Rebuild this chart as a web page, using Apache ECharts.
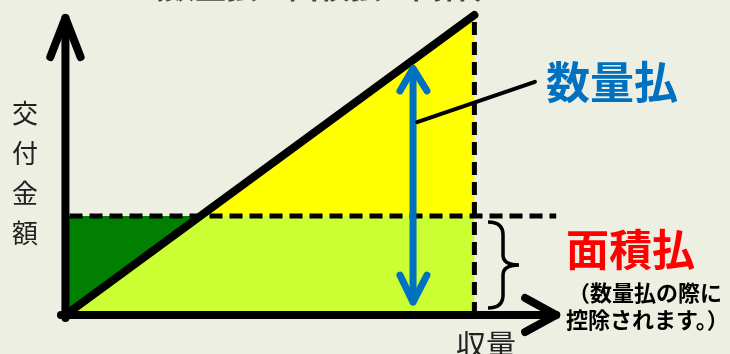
<!DOCTYPE html>
<html>
<head>
<meta charset="utf-8">
<script src="https://cdn.jsdelivr.net/npm/echarts@6/dist/echarts.min.js"></script>
<style>
  html, body { margin: 0; padding: 0; background: #ECEFE1; }
  #main { width: 730px; height: 354px; }
</style>
</head>
<body>
<div id="main"></div>
<script>
// 概念座標: x = 収量 (1 = 実収量), y = 交付金額 (1 = 数量払の満額)
var xRange = [-0.16, 1.625];
var yRange = [-0.13, 1.05];

var diagonal = [[0, 0], [1, 1]];
var greenArea = [[0, 0], [0, 0.33], [0.33, 0.33]];
var limeArea = [[0, 0], [0.33, 0.33], [1, 0.33], [1, 0]];
var yellowArea = [[0.33, 0.33], [1, 1], [1, 0.33]];

var yAxisLine = [[0, -0.01], [0, 0.99]];
var yArrowHead = [[-0.037, 0.86], [0, 0.99], [0.037, 0.86]];
var xAxisLine = [[-0.011, 0], [1.2, 0]];
var xArrowHead = [[1.124, 0.057], [1.2, 0], [1.124, -0.057]];

var dashH = [[0.01, 0.33], [1.2, 0.33]];
var dashV = [[1, 0], [1, 1.01]];

var qtyArrow = [[0.85, 0.045], [0.85, 0.82]];
var qtyHeadTop = [[0.818, 0.747], [0.85, 0.822], [0.884, 0.747]];
var qtyHeadBottom = [[0.818, 0.133], [0.85, 0.043], [0.884, 0.133]];
var pointer = [[0.86, 0.643], [1.148, 0.777]];

// 中括弧: [x, 上端y, 下端y]
var brace = [[1.07, 0.31, 0.023]];

function lineSeries(data, color, width, dash) {
  return {
    type: 'line',
    data: data,
    symbol: 'none',
    silent: true,
    z: 5,
    lineStyle: { color: color, width: width, type: dash || 'solid', cap: dash ? 'butt' : 'round', join: 'round' }
  };
}

function polySeries(points, color) {
  return {
    type: 'custom',
    data: [[0, 0]],
    silent: true,
    z: 1,
    renderItem: function (params, api) {
      return {
        type: 'polygon',
        shape: { points: points.map(function (p) { return api.coord(p); }) },
        style: { fill: color }
      };
    }
  };
}

var chart = echarts.init(document.getElementById('main'));
chart.setOption({
  animation: false,
  backgroundColor: '#ECEFE1',
  grid: { left: 0, right: 0, top: 0, bottom: 0 },
  xAxis: { type: 'value', min: xRange[0], max: xRange[1], show: false },
  yAxis: { type: 'value', min: yRange[0], max: yRange[1], show: false },
  series: [
    polySeries(greenArea, '#007F00'),
    polySeries(limeArea, '#CCFF33'),
    polySeries(yellowArea, '#FFFF00'),
    lineSeries(dashH, '#000', 5, [13, 7]),
    lineSeries(dashV, '#000', 5, [13, 7]),
    lineSeries(diagonal, '#000', 8),
    lineSeries(yAxisLine, '#000', 8),
    lineSeries(yArrowHead, '#000', 8),
    lineSeries(xAxisLine, '#000', 8),
    lineSeries(xArrowHead, '#000', 8),
    lineSeries(qtyArrow, '#0070C0', 7),
    lineSeries(qtyHeadTop, '#0070C0', 7),
    lineSeries(qtyHeadBottom, '#0070C0', 7),
    lineSeries(pointer, '#000', 4),
    {
      type: 'custom',
      data: brace,
      silent: true,
      z: 6,
      renderItem: function (params, api) {
        var top = api.coord([api.value(0), api.value(1)]);
        var bot = api.coord([api.value(0), api.value(2)]);
        var x = top[0], t = top[1], b = bot[1], m = (t + b) / 2;
        var d = 'M' + (x - 15) + ' ' + t +
          ' Q' + x + ' ' + t + ' ' + x + ' ' + (t + 13) +
          ' L' + x + ' ' + (m - 10) +
          ' Q' + x + ' ' + m + ' ' + (x + 16) + ' ' + m +
          ' Q' + x + ' ' + m + ' ' + x + ' ' + (m + 10) +
          ' L' + x + ' ' + (b - 13) +
          ' Q' + x + ' ' + b + ' ' + (x - 15) + ' ' + b;
        return {
          type: 'path',
          shape: { pathData: d },
          style: { fill: null, stroke: '#000', lineWidth: 3.5 }
        };
      }
    }
  ],
  graphic: [
    {
      type: 'text', x: 319, y: -14,
      style: { text: '（数量払と面積払の関係）', font: 'bold 31px "Noto Sans CJK JP"', fill: '#444', align: 'center', verticalAlign: 'middle' }
    },
    {
      type: 'text', x: 546, y: 82,
      style: { text: '数量払', font: 'bold 44px "Noto Sans CJK JP"', fill: '#0070C0', verticalAlign: 'middle' }
    },
    {
      type: 'text', x: 566, y: 250,
      style: { text: '面積払', font: 'bold 43px "Noto Sans CJK JP"', fill: '#FF0000', verticalAlign: 'middle' }
    },
    {
      type: 'text', x: 568, y: 282,
      style: { text: '（数量払の際に', font: 'bold 22px "Noto Sans CJK JP"', fill: '#000', verticalAlign: 'top' }
    },
    {
      type: 'text', x: 566, y: 309,
      style: { text: '控除されます。）', font: 'bold 22px "Noto Sans CJK JP"', fill: '#000', verticalAlign: 'top' }
    },
    {
      type: 'text', x: 456, y: 345,
      style: { text: '収量', font: '30px "Noto Sans CJK JP"', fill: '#222', verticalAlign: 'middle' }
    },
    {
      type: 'text', x: 25, y: 93,
      style: { text: '交\n付\n金\n額', font: '26px "Noto Sans CJK JP"', lineHeight: 40, fill: '#222', align: 'center', verticalAlign: 'top' }
    }
  ]
});
</script>
</body>
</html>
